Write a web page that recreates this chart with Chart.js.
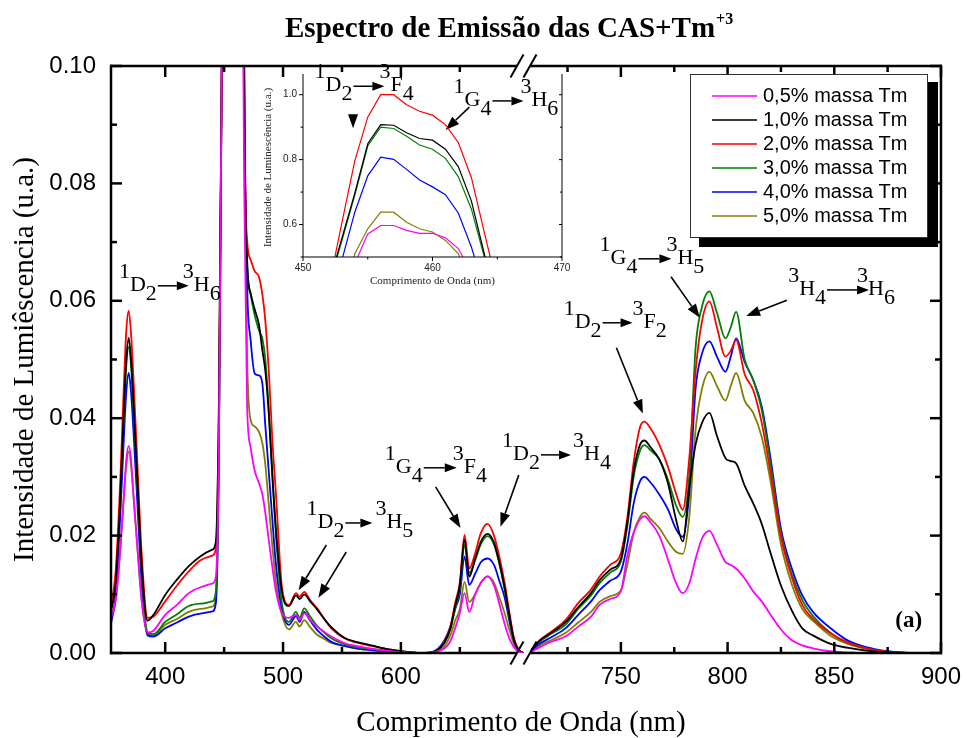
<!DOCTYPE html>
<html><head><meta charset="utf-8">
<script src="https://cdn.jsdelivr.net/npm/chart.js@4"></script>
<style>
html,body{margin:0;padding:0;background:#fff;}
#wrap{position:relative;width:971px;height:738px;overflow:hidden;}
#main{position:absolute;left:0;top:0;}
#inset{position:absolute;left:250px;top:60px;}
</style></head><body>
<div id="wrap"><canvas id="main" width="971" height="738"></canvas><canvas id="inset" width="330" height="240"></canvas></div>
<script>
// ---------- DATA ----------
const seriesNames = ['0,5% massa Tm','1,0% massa Tm','2,0% massa Tm','3,0% massa Tm','4,0% massa Tm','5,0% massa Tm'];
const seriesColors = ['#ff00ff','#000000','#ff0000','#008000','#0000ff','#808000'];

// left part of the broken axis (nm)
const wlLeft = [354,358,362,365,367,369,371,373,376,380,385,390,400,410,420,430,440,443,445.5,448,452,456,460,464,467,469.5,472.5,476,479.5,482.5,485,488,491,494,499,505,511,514,518,523,529,535,541,552,562,575,590,605,620,630,637,642,646,650,654,658,663,668,673.5,679,684,688,692,696,700,704];
const tm05Left = [0.006,0.009,0.018,0.027,0.033,0.0353,0.033,0.027,0.019,0.009,0.0035,0.0038,0.0065,0.0082,0.0102,0.0112,0.0118,0.013,0.035,0.1,0.15,0.36,0.345,0.17,0.08,0.042,0.035,0.031,0.029,0.027,0.0238,0.019,0.0145,0.0105,0.0068,0.006,0.0065,0.0056,0.0068,0.0056,0.0045,0.0036,0.0028,0.0017,0.0012,0.0007,0.0003,0.0001,0,0.0002,0.0008,0.002,0.0042,0.0068,0.0102,0.007,0.01,0.012,0.0131,0.0115,0.008,0.005,0.0025,0.001,0.0002,0];
const tm10Left = [0.007,0.012,0.027,0.042,0.05,0.0537,0.05,0.043,0.031,0.015,0.0055,0.0065,0.0099,0.0125,0.0148,0.0165,0.0176,0.019,0.042,0.1,0.23,0.545,0.515,0.29,0.1,0.067,0.0613,0.0585,0.056,0.0515,0.048,0.0405,0.03,0.021,0.0105,0.008,0.0098,0.0092,0.01,0.0088,0.0074,0.0058,0.0044,0.0026,0.0019,0.0013,0.0006,0.0002,0,0.0004,0.0018,0.0042,0.008,0.0115,0.0193,0.013,0.016,0.019,0.0203,0.0188,0.015,0.0112,0.0065,0.0022,0.0005,0];
const tm20Left = [0.008,0.014,0.03,0.046,0.055,0.0583,0.0545,0.047,0.034,0.017,0.006,0.0062,0.0088,0.0115,0.0139,0.0158,0.0166,0.0178,0.04,0.1,0.25,0.6,0.56,0.33,0.1,0.0704,0.067,0.065,0.0641,0.061,0.0565,0.0477,0.036,0.027,0.0113,0.0082,0.0102,0.0096,0.0104,0.009,0.0076,0.0058,0.0042,0.0025,0.0018,0.0012,0.0006,0.0002,0,0.0004,0.002,0.0045,0.0085,0.012,0.0201,0.0144,0.017,0.0205,0.022,0.02,0.016,0.012,0.007,0.0025,0.0005,0];
const tm30Left = [0.0075,0.013,0.027,0.041,0.049,0.0521,0.049,0.042,0.03,0.014,0.0035,0.0032,0.0053,0.0066,0.008,0.0084,0.0088,0.0105,0.035,0.1,0.225,0.54,0.5,0.28,0.1,0.0664,0.061,0.0575,0.055,0.0535,0.05,0.041,0.03,0.02,0.0085,0.0053,0.007,0.006,0.0076,0.0062,0.0046,0.0035,0.0025,0.0015,0.001,0.0007,0.0004,0.0001,0,0.0004,0.0018,0.004,0.0075,0.011,0.0184,0.0136,0.0158,0.0186,0.0199,0.0185,0.0148,0.0108,0.0063,0.0022,0.0005,0];
const tm40Left = [0.005,0.01,0.024,0.037,0.0445,0.0477,0.0445,0.038,0.027,0.012,0.003,0.0028,0.0042,0.0052,0.0062,0.0067,0.0071,0.0085,0.033,0.1,0.2,0.485,0.43,0.24,0.1,0.063,0.0533,0.0476,0.0473,0.0458,0.0386,0.0306,0.0225,0.015,0.0075,0.0048,0.0063,0.0053,0.007,0.0055,0.0039,0.0028,0.0019,0.0012,0.0008,0.0005,0.0003,0.0001,0,0.0005,0.0022,0.0045,0.0075,0.01,0.0164,0.0116,0.0135,0.0155,0.0161,0.015,0.012,0.0095,0.0055,0.002,0.0004,0];
const tm50Left = [0.006,0.009,0.018,0.027,0.032,0.0344,0.032,0.027,0.019,0.009,0.0032,0.003,0.0048,0.0058,0.007,0.0075,0.0079,0.0095,0.033,0.1,0.16,0.38,0.345,0.17,0.09,0.0505,0.0397,0.0386,0.0377,0.0357,0.032,0.025,0.018,0.012,0.0065,0.004,0.0053,0.0045,0.0056,0.0044,0.0031,0.0024,0.0017,0.0012,0.0008,0.0005,0.0003,0.0001,0,0.0003,0.0012,0.003,0.0055,0.0075,0.0121,0.0087,0.01,0.012,0.013,0.012,0.0092,0.0068,0.004,0.0015,0.0003,0];

// right part of the broken axis (nm)
const wlRight = [708,712,718,724,730,736,740,745,750,753,756,759,761,764,768,772,776,779,782,785,788,791.5,795,799,801.5,804,808,812,816,820,825,830,835,840,848,856,865,875,885];
const tm05Right = [0.0002,0.001,0.002,0.0028,0.0045,0.0062,0.0082,0.0092,0.0105,0.0165,0.0205,0.0228,0.0233,0.0222,0.02,0.016,0.0118,0.0102,0.0118,0.016,0.0195,0.0208,0.0185,0.0155,0.015,0.0144,0.0127,0.0105,0.0088,0.0066,0.004,0.0022,0.0013,0.0008,0.0003,0.0001,0,0,0];
const tm10Right = [0.0005,0.0021,0.0036,0.0052,0.0078,0.0102,0.0124,0.0142,0.016,0.0222,0.031,0.0355,0.0362,0.035,0.033,0.029,0.0225,0.019,0.028,0.0355,0.0392,0.0409,0.037,0.0332,0.0327,0.0323,0.0285,0.0255,0.022,0.0172,0.0115,0.0073,0.0042,0.003,0.0016,0.0009,0.0004,0.0001,0];
const tm20Right = [0.0005,0.0022,0.0038,0.0056,0.0085,0.0108,0.013,0.015,0.017,0.023,0.0325,0.0385,0.0394,0.0382,0.0355,0.0318,0.027,0.0244,0.033,0.048,0.0565,0.0599,0.0555,0.0505,0.0515,0.0533,0.0475,0.0448,0.0392,0.031,0.0198,0.013,0.0082,0.0058,0.0034,0.0018,0.0008,0.0002,0];
const tm30Right = [0.0005,0.002,0.0034,0.0048,0.0075,0.0098,0.0119,0.0137,0.0156,0.0215,0.03,0.0345,0.0354,0.0345,0.033,0.0296,0.025,0.0232,0.03,0.052,0.059,0.0616,0.058,0.0536,0.0555,0.0581,0.05,0.0465,0.0414,0.0325,0.0204,0.0135,0.009,0.0063,0.0035,0.0018,0.0008,0.0002,0];
const tm40Right = [0.0004,0.0016,0.0028,0.0042,0.0065,0.0088,0.0107,0.0123,0.0139,0.0185,0.0255,0.0293,0.03,0.029,0.027,0.0245,0.021,0.0198,0.027,0.045,0.051,0.0531,0.0505,0.0479,0.0505,0.0536,0.0496,0.0465,0.042,0.0335,0.0212,0.0145,0.0098,0.007,0.0043,0.0022,0.001,0.0003,0];
const tm50Right = [0.0003,0.0013,0.0023,0.0034,0.0052,0.007,0.0087,0.0097,0.0107,0.015,0.0205,0.0232,0.0239,0.0228,0.0213,0.019,0.0172,0.0169,0.023,0.038,0.045,0.0479,0.0455,0.043,0.0455,0.0477,0.043,0.0409,0.0368,0.0295,0.0185,0.0118,0.0075,0.0055,0.003,0.0016,0.0007,0.0002,0];

// inset (normalised)
const wlInset = [452,453,454,455,456,457,458,459,460,461,462,463,464,465];
const tm05Inset = [0.15,0.30,0.48,0.571,0.597,0.597,0.582,0.573,0.573,0.559,0.526,0.45,0.35,0.25];
const tm10Inset = [0.42,0.557,0.697,0.849,0.908,0.906,0.883,0.865,0.86,0.832,0.778,0.673,0.51,0.35];
const tm20Inset = [0.41,0.605,0.796,0.931,1.0,1.0,0.969,0.949,0.937,0.908,0.852,0.745,0.576,0.41];
const tm30Inset = [0.41,0.55,0.69,0.842,0.9,0.896,0.872,0.845,0.832,0.804,0.747,0.648,0.50,0.35];
const tm40Inset = [0.35,0.49,0.638,0.75,0.808,0.801,0.77,0.737,0.716,0.692,0.635,0.531,0.40,0.30];
const tm50Inset = [0.15,0.30,0.51,0.587,0.638,0.638,0.607,0.587,0.577,0.551,0.51,0.41,0.30,0.20];

// tick labels
const xTicksLeft = [400,500,600];
const xMinorLeft = [450,550,650];
const xTicksRight = [750,800,850,900];
const xMinorRight = [725,775,825,875];
const yTicks = [0,0.02,0.04,0.06,0.08,0.10];
const yMinor = [0.01,0.03,0.05,0.07,0.09];
const insetXTicks = [450,460,470];
const insetXMinor = [455,465];
const insetYTicks = [0.6,0.8,1.0];
const insetYMinor = [0.5,0.7,0.9];

// ---------- BUILD ----------
Chart.defaults.font.family = '"Liberation Sans", Arial, sans-serif';
Chart.defaults.color = '#000';
const leftSeries = [tm05Left,tm10Left,tm20Left,tm30Left,tm40Left,tm50Left];
const rightSeries = [tm05Right,tm10Right,tm20Right,tm30Right,tm40Right,tm50Right];
const insetSeries = [tm05Inset,tm10Inset,tm20Inset,tm30Inset,tm40Inset,tm50Inset];

const datasets = [];
seriesNames.forEach((name,i)=>{
  const common = {label:name, borderColor:seriesColors[i], backgroundColor:seriesColors[i], borderWidth:1.8, pointRadius:0, fill:false, cubicInterpolationMode:'monotone', yAxisID:'y'};
  datasets.push(Object.assign({}, common, {xAxisID:'x1', data: wlLeft.map((w,j)=>({x:w,y:leftSeries[i][j]}))}));
  datasets.push(Object.assign({}, common, {xAxisID:'x2', data: wlRight.map((w,j)=>({x:w,y:rightSeries[i][j]}))}));
});

function drawArrow(ctx, x0, y0, x1, y1, headLen, headHalf, lw) {
  const ang = Math.atan2(y1-y0, x1-x0);
  const bx = x1 - headLen*Math.cos(ang), by = y1 - headLen*Math.sin(ang);
  ctx.lineWidth = lw || 1.5;
  if (Math.hypot(bx-x0, by-y0) > 0.5) { ctx.beginPath(); ctx.moveTo(x0,y0); ctx.lineTo(bx,by); ctx.stroke(); }
  ctx.beginPath(); ctx.moveTo(x1,y1);
  ctx.lineTo(bx + headHalf*Math.sin(ang), by - headHalf*Math.cos(ang));
  ctx.lineTo(bx - headHalf*Math.sin(ang), by + headHalf*Math.cos(ang));
  ctx.closePath(); ctx.fill();
}
function drawTerm(ctx, x, y, tokens, arrowLen, overlap) {
  ctx.font = '22px "Liberation Serif", "Times New Roman", serif';
  ctx.textBaseline = 'alphabetic'; ctx.textAlign = 'left';
  let cx = x;
  for (const t of tokens) {
    if (t === '->') {
      drawArrow(ctx, cx + 1, y - 5, cx + arrowLen, y - 5, 12, 4.5, 1.5);
      cx += arrowLen - overlap;
    } else {
      let dy = 0, s = t;
      if (t[0] === '^') { dy = -13; s = t.slice(1); }
      else if (t[0] === '_') { dy = 9; s = t.slice(1); }
      ctx.fillText(s, cx, y + dy);
      cx += ctx.measureText(s).width;
    }
  }
}

// annotations anchored in data coordinates
const labels = [
  {axis:'x1', x:360.7, y:0.0617, tokens:['^1','D','_2','->','^3','H','_6'], len:32, ov:6},
  {axis:'x1', x:526.7, y:0.0957, tokens:['^1','D','_2','->','^3','F','_4'], len:32, ov:5},
  {axis:'x1', x:644.7, y:0.0932, tokens:['^1','G','_4','->','^3','H','_6'], len:32, ov:3},
  {axis:'x1', x:519.9, y:0.0213, tokens:['^1','D','_2','->','^3','H','_5'], len:28, ov:-3},
  {axis:'x1', x:586.4, y:0.0307, tokens:['^1','G','_4','->','^3','F','_4'], len:34, ov:4},
  {axis:'x1', x:685.9, y:0.0329, tokens:['^1','D','_2','->','^3','H','_4'], len:31, ov:-2},
  {axis:'x2', x:723.2, y:0.0554, tokens:['^1','D','_2','->','^3','F','_2'], len:31, ov:0},
  {axis:'x2', x:740.0, y:0.0663, tokens:['^1','G','_4','->','^3','H','_5'], len:34, ov:5},
  {axis:'x2', x:828.4, y:0.0610, tokens:['^3','H','_4','->','^3','H','_6'], len:43, ov:12}
];
const pointers = [
  {axis:'x1', from:[658.1,0.0930], to:[637.9,0.0891]},
  {axis:'x1', from:[559.4,0.0918], to:[559.4,0.0894]},
  {axis:'x1', from:[536.8,0.0184], to:[513.2,0.0107]},
  {axis:'x1', from:[553.6,0.0172], to:[530.0,0.0094]},
  {axis:'x1', from:[629.5,0.0283], to:[650.6,0.0213]},
  {axis:'x1', from:[700.0,0.0303], to:[684.5,0.0215]},
  {axis:'x2', from:[747.9,0.0520], to:[760.3,0.0408]},
  {axis:'x2', from:[773.5,0.0641], to:[787.0,0.0571]},
  {axis:'x2', from:[827.8,0.0601], to:[808.7,0.0574]}
];

const mainDecor = {
  id:'mainDecor',
  afterDraw(chart) {
    const ctx = chart.ctx, a = chart.chartArea;
    const sx1 = chart.scales.x1, sx2 = chart.scales.x2, sy = chart.scales.y;
    const brk = sx1.right;
    ctx.save();
    ctx.strokeStyle = '#000'; ctx.fillStyle = '#000';
    const line = (x0,y0,x1,y1)=>{ctx.beginPath();ctx.moveTo(x0,y0);ctx.lineTo(x1,y1);ctx.stroke();};
    // frame
    ctx.lineWidth = 2.5; ctx.lineCap = 'square';
    line(a.left, a.top, a.left, a.bottom);
    line(a.right, a.top, a.right, a.bottom);
    ctx.lineCap = 'butt';
    line(a.left-1, a.top, brk-10, a.top); line(brk+3, a.top, a.right+1, a.top);
    line(a.left-1, a.bottom, brk-10, a.bottom); line(brk+3, a.bottom, a.right+1, a.bottom);
    // break marks
    ctx.lineWidth = 2;
    [a.top, a.bottom].forEach(yy=>{
      [brk-10, brk+3].forEach(cx=>line(cx-6.5, yy+11.5, cx+6.5, yy-11.5));
    });
    // ticks (inward)
    ctx.lineWidth = 2.5;
    const xt = (scale, vals, len)=>vals.forEach(v=>{const p=scale.getPixelForValue(v); line(p,a.bottom,p,a.bottom-len); line(p,a.top,p,a.top+len);});
    xt(sx1, xTicksLeft, 11); xt(sx1, xMinorLeft, 6);
    xt(sx2, xTicksRight, 11); xt(sx2, xMinorRight, 6);
    const yt = (vals,len)=>vals.forEach(v=>{const p=sy.getPixelForValue(v); line(a.left,p,a.left+len,p); line(a.right,p,a.right-len,p);});
    yt(yTicks, 11); yt(yMinor, 6);

    // title
    ctx.textAlign = 'left'; ctx.textBaseline = 'alphabetic';
    ctx.font = 'bold 29px "Liberation Serif", "Times New Roman", serif';
    const tt = 'Espectro de Emissão das CAS+Tm';
    ctx.fillText(tt, 285, 37);
    const tw = ctx.measureText(tt).width;
    ctx.font = 'bold 16px "Liberation Serif", "Times New Roman", serif';
    ctx.fillText('+3', 285 + tw + 1, 24);

    // axis titles
    ctx.font = '29px "Liberation Serif", "Times New Roman", serif';
    ctx.textAlign = 'center';
    ctx.fillText('Comprimento de Onda (nm)', 521, 731);
    ctx.save(); ctx.translate(33, (a.top + a.bottom)/2); ctx.rotate(-Math.PI/2);
    ctx.fillText('Intensidade de Lumiêscencia (u.a.)', 0, 0); ctx.restore();

    // annotations
    ctx.textAlign = 'left';
    labels.forEach(l=>{
      const sc = chart.scales[l.axis];
      drawTerm(ctx, sc.getPixelForValue(l.x), sy.getPixelForValue(l.y), l.tokens, l.len, l.ov);
    });
    pointers.forEach(p=>{
      const sc = chart.scales[p.axis];
      drawArrow(ctx, sc.getPixelForValue(p.from[0]), sy.getPixelForValue(p.from[1]), sc.getPixelForValue(p.to[0]), sy.getPixelForValue(p.to[1]), 14, 5, 1.6);
    });
    // (a)
    ctx.font = 'bold 23px "Liberation Serif", "Times New Roman", serif';
    ctx.fillText('(a)', sx2.getPixelForValue(878.6), sy.getPixelForValue(0.0044));

    // legend
    ctx.fillStyle = '#000'; ctx.fillRect(699, 82, 239, 165);
    ctx.fillStyle = '#fff'; ctx.fillRect(690, 74, 238, 164);
    ctx.strokeStyle = '#333'; ctx.lineWidth = 1; ctx.strokeRect(690.5, 74.5, 237, 163);
    ctx.font = '20px "Liberation Sans", Arial, sans-serif';
    ctx.textBaseline = 'middle';
    seriesNames.forEach((n,i)=>{
      const yy = 96 + i*24;
      ctx.strokeStyle = seriesColors[i]; ctx.lineWidth = 1.5;
      line(712, yy, 757, yy);
      ctx.fillStyle = '#000'; ctx.fillText(n, 763, yy);
    });
    ctx.restore();
  }
};

new Chart(document.getElementById('main'), {
  type:'line',
  data:{datasets},
  options:{
    responsive:false, animation:false, devicePixelRatio:1, events:[],
    layout:{padding:{left:0, top:66, right:24, bottom:0}},
    plugins:{legend:{display:false}, tooltip:{enabled:false}, title:{display:false}},
    scales:{
      x1:{type:'linear', position:'bottom', stack:'xs', stackWeight:419, min:354, max:707,
        grid:{display:false, drawTicks:false}, border:{display:false},
        afterBuildTicks:s=>{s.ticks = xTicksLeft.map(v=>({value:v}));},
        afterFit:s=>{s.height = 85;},
        ticks:{padding:10, autoSkip:false, maxRotation:0, font:{size:24}, callback:v=>String(v)}},
      x2:{type:'linear', position:'bottom', stack:'xs', stackWeight:417, min:706, max:900,
        grid:{display:false, drawTicks:false}, border:{display:false},
        afterBuildTicks:s=>{s.ticks = xTicksRight.map(v=>({value:v}));},
        afterFit:s=>{s.height = 85;},
        ticks:{padding:10, autoSkip:false, maxRotation:0, font:{size:24}, callback:v=>String(v)}},
      y:{type:'linear', position:'left', min:0, max:0.1,
        grid:{display:false, drawTicks:false}, border:{display:false},
        afterBuildTicks:s=>{s.ticks = yTicks.map(v=>({value:v}));},
        afterFit:s=>{s.width = 111;},
        ticks:{padding:15, autoSkip:false, font:{size:24}, callback:v=>Number(v).toFixed(2)}}
    }
  },
  plugins:[mainDecor]
});

// ---------- INSET ----------
const insetDecor = {
  id:'insetDecor',
  afterDraw(chart) {
    const ctx = chart.ctx, a = chart.chartArea, sx = chart.scales.x, sy = chart.scales.y;
    ctx.save(); ctx.strokeStyle = '#000'; ctx.fillStyle = '#000'; ctx.lineWidth = 1;
    const line = (x0,y0,x1,y1)=>{ctx.beginPath();ctx.moveTo(x0,y0);ctx.lineTo(x1,y1);ctx.stroke();};
    line(a.left, a.top+2, a.left, a.bottom);
    line(a.right, a.top+2, a.right, a.bottom);
    line(a.left, a.bottom, a.right, a.bottom);
    insetXTicks.forEach(v=>{const p=sx.getPixelForValue(v); line(p,a.bottom,p,a.bottom+4);});
    insetXMinor.forEach(v=>{const p=sx.getPixelForValue(v); line(p,a.bottom,p,a.bottom+2.5);});
    insetYTicks.forEach(v=>{const p=sy.getPixelForValue(v); line(a.left-4,p,a.left,p); line(a.right,p,a.right-3,p);});
    insetYMinor.forEach(v=>{const p=sy.getPixelForValue(v); line(a.left-2.5,p,a.left,p); line(a.right,p,a.right-2,p);});
    ctx.font = '11px "Liberation Serif", "Times New Roman", serif';
    ctx.textAlign = 'center'; ctx.textBaseline = 'middle'; ctx.fillStyle = '#222';
    ctx.fillText('Comprimento de Onda (nm)', (a.left+a.right)/2, 221);
    ctx.save(); ctx.translate(18, (a.top+a.bottom)/2 + 3); ctx.rotate(-Math.PI/2);
    ctx.fillText('Intensidade de Luminescência (u.a.)', 0, 0); ctx.restore();
    ctx.restore();
  }
};
new Chart(document.getElementById('inset'), {
  type:'line',
  data:{datasets: seriesNames.map((n,i)=>({label:n, borderColor:seriesColors[i], borderWidth:1.2, pointRadius:0, fill:false, tension:0,
    data: wlInset.map((w,j)=>({x:w, y:insetSeries[i][j]}))}))},
  options:{
    responsive:false, animation:false, devicePixelRatio:1, events:[],
    layout:{padding:{left:0, top:10, right:18, bottom:0}},
    plugins:{legend:{display:false}, tooltip:{enabled:false}},
    scales:{
      x:{type:'linear', min:450, max:470, grid:{display:false, drawTicks:false}, border:{display:false},
        afterBuildTicks:s=>{s.ticks = insetXTicks.map(v=>({value:v}));},
        afterFit:s=>{s.height = 43;},
        ticks:{padding:5, autoSkip:false, maxRotation:0, color:'#222', font:{size:10}, callback:v=>String(v)}},
      y:{type:'linear', min:0.5, max:1.07, grid:{display:false, drawTicks:false}, border:{display:false},
        afterBuildTicks:s=>{s.ticks = insetYTicks.map(v=>({value:v}));},
        afterFit:s=>{s.width = 53;},
        ticks:{padding:6, autoSkip:false, color:'#222', font:{size:10}, callback:v=>Number(v).toFixed(1)}}
    }
  },
  plugins:[insetDecor]
});
</script>
</body></html>
